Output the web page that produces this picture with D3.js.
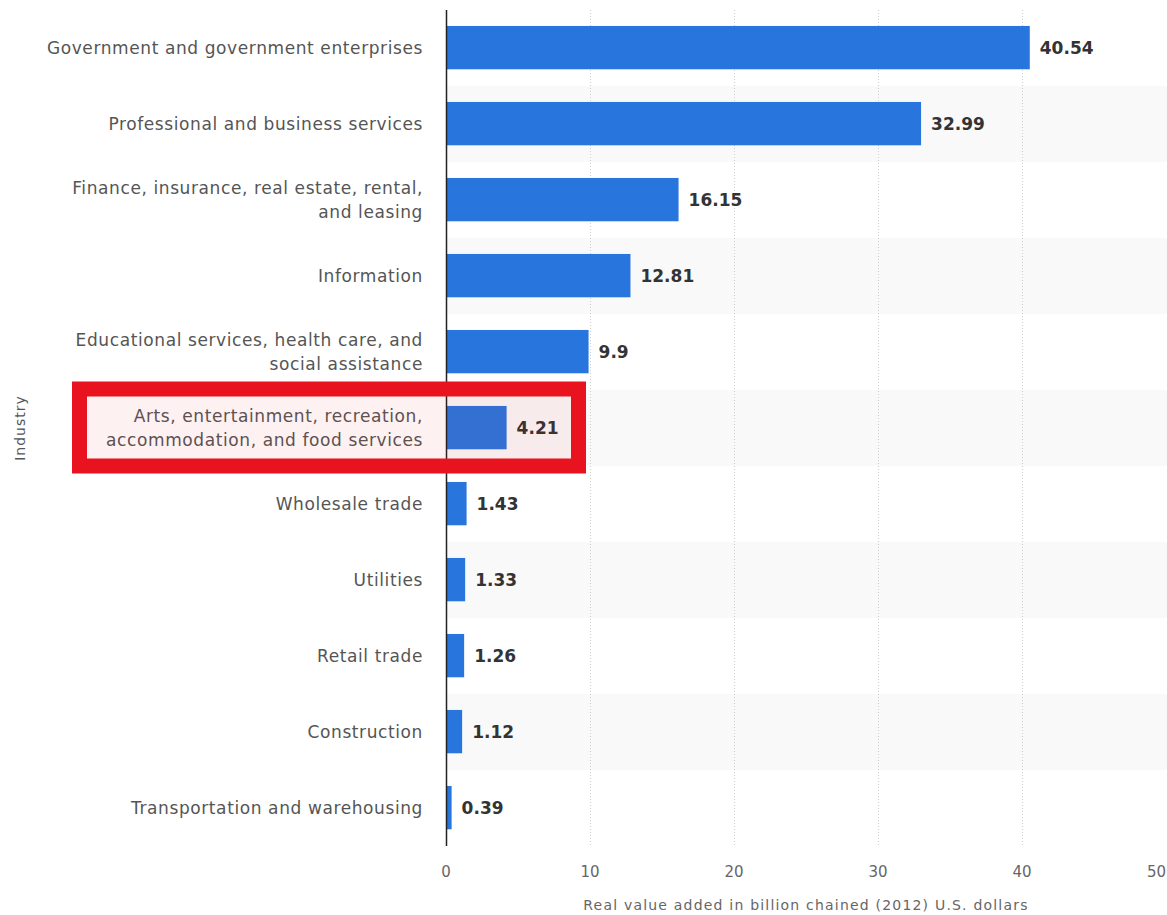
<!DOCTYPE html>
<html lang="en">
<head>
<meta charset="utf-8">
<script src="https://d3js.org/d3.v7.min.js"></script>
<title>Real value added by industry</title>
<style>
  body { margin: 0; background: #fff; }
  svg text { font-family: "DejaVu Sans", sans-serif; }
</style>
</head>
<body>
<div id="chart"></div>
<script>
// data
const industries = [
  ["Government and government enterprises"],
  ["Professional and business services"],
  ["Finance, insurance, real estate, rental,", "and leasing"],
  ["Information"],
  ["Educational services, health care, and", "social assistance"],
  ["Arts, entertainment, recreation,", "accommodation, and food services"],
  ["Wholesale trade"],
  ["Utilities"],
  ["Retail trade"],
  ["Construction"],
  ["Transportation and warehousing"]
];
const values = [40.54, 32.99, 16.15, 12.81, 9.9, 4.21, 1.43, 1.33, 1.26, 1.12, 0.39];
const xTicks = [0, 10, 20, 30, 40, 50];
const highlighted = 5;

const W = 1167, H = 915;
const plotL = 446, plotR = 1166, plotT = 10, plotB = 846;

const svg = d3.select("#chart").append("svg").attr("width", W).attr("height", H);

const x = d3.scaleLinear().domain([0, 50]).range([plotL, plotR]);
const y = d3.scaleBand().domain(d3.range(values.length)).range([plotT, plotB]).padding(0);
const bw = y.bandwidth();

// zebra stripes
svg.append("g").selectAll("rect")
  .data(d3.range(values.length).filter(i => i % 2 === 1))
  .join("rect")
  .attr("x", plotL).attr("y", i => y(i))
  .attr("width", plotR - plotL + 1).attr("height", bw)
  .attr("fill", "#f9f9f9");

// dotted grid
svg.append("g").selectAll("line")
  .data(xTicks.filter(d => d > 0 && d < 50))
  .join("line")
  .attr("x1", d => Math.round(x(d)) + 0.5).attr("x2", d => Math.round(x(d)) + 0.5)
  .attr("y1", plotT).attr("y2", plotB)
  .attr("stroke", "#cfcfcf").attr("stroke-dasharray", "1,2");

// bars
svg.append("g").selectAll("rect")
  .data(values)
  .join("rect")
  .attr("x", x(0))
  .attr("y", (d, i) => y(i) + bw * 0.21)
  .attr("width", d => x(d) - x(0))
  .attr("height", bw * 0.57)
  .attr("fill", "#2876dd");

// value labels
svg.append("g").selectAll("text")
  .data(values)
  .join("text")
  .attr("x", d => x(d) + 10)
  .attr("y", (d, i) => y(i) + bw / 2)
  .attr("dy", "0.35em")
  .attr("font-size", 17)
  .attr("font-weight", "bold")
  .attr("fill", "#333")
  .text(d => d);

// category labels
const cat = svg.append("g").selectAll("text")
  .data(industries)
  .join("text")
  .attr("text-anchor", "end")
  .attr("font-size", 17)
  .attr("letter-spacing", 0.6)
  .attr("fill", "#555")
  .attr("transform", (d, i) => `translate(423,${y(i) + bw / 2})`);
cat.selectAll("tspan")
  .data(d => d.map((t, k) => ({t, k, n: d.length})))
  .join("tspan")
  .attr("x", 0)
  .attr("y", d => (d.k - (d.n - 1) / 2) * 24)
  .attr("dy", "0.35em")
  .text(d => d.t);

// y axis line
svg.append("line")
  .attr("x1", plotL + 0.5).attr("x2", plotL + 0.5)
  .attr("y1", plotT).attr("y2", plotB)
  .attr("stroke", "#222").attr("stroke-width", 1.5);

// x tick labels
svg.append("g").selectAll("text")
  .data(xTicks)
  .join("text")
  .attr("x", d => d === 50 ? plotR : x(d))
  .attr("y", 872)
  .attr("dy", "0.35em")
  .attr("text-anchor", d => d === 50 ? "end" : "middle")
  .attr("font-size", 15)
  .attr("fill", "#666")
  .text(d => d);

// axis titles
svg.append("text")
  .attr("x", (plotL + plotR) / 2).attr("y", 905)
  .attr("dy", "0.35em")
  .attr("text-anchor", "middle")
  .attr("font-size", 14)
  .attr("letter-spacing", 1.2)
  .attr("fill", "#666")
  .text("Real value added in billion chained (2012) U.S. dollars");

svg.append("text")
  .attr("transform", `translate(20,${(plotT + plotB) / 2}) rotate(-90)`)
  .attr("dy", "0.35em")
  .attr("text-anchor", "middle")
  .attr("font-size", 14)
  .attr("letter-spacing", 1)
  .attr("fill", "#555")
  .text("Industry");

// red highlight box
svg.append("rect")
  .attr("x", 79.5).attr("y", y(highlighted) - 1)
  .attr("width", 499).attr("height", bw + 1)
  .attr("fill", "rgba(232,19,31,0.06)")
  .attr("stroke", "#e8131f")
  .attr("stroke-width", 15);
</script>
</body>
</html>
